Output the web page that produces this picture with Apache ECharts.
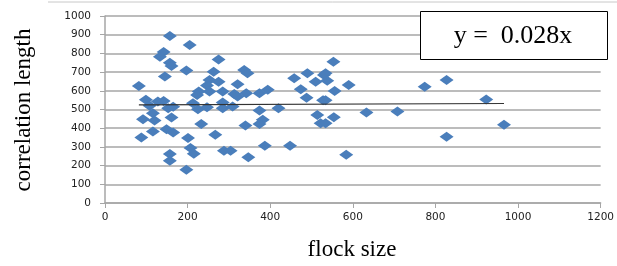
<!DOCTYPE html>
<html>
<head>
<meta charset="utf-8">
<script src="https://cdn.jsdelivr.net/npm/echarts@6/dist/echarts.min.js"></script>
<style>
  html, body { margin: 0; padding: 0; background: #fff; }
  #chart { width: 617px; height: 266px; }
</style>
</head>
<body>
<div id="chart"></div>
<script>
// flock size / correlation length
var points = [
  [157, 893], [142, 808], [133, 782], [157, 750], [161, 733], [145, 676],
  [82, 626], [99, 552], [128, 543], [142, 546], [108, 520], [153, 507],
  [165, 515], [116, 480], [161, 457], [92, 448], [120, 441], [149, 395],
  [165, 377], [116, 382], [88, 350], [157, 262], [157, 226],
  [205, 845], [275, 768], [197, 708], [263, 702], [337, 711], [345, 694],
  [253, 658], [275, 649], [247, 628], [321, 635], [227, 596], [253, 596],
  [285, 596], [313, 583], [321, 569], [342, 587], [223, 578], [213, 534],
  [225, 502], [247, 512], [285, 537], [285, 507], [309, 516], [233, 422],
  [267, 365], [340, 414], [201, 347], [207, 294], [215, 263], [288, 279],
  [304, 279], [347, 244], [197, 178],
  [458, 667], [490, 694], [510, 649], [530, 685], [374, 587], [394, 605],
  [474, 608], [488, 563], [528, 549], [374, 494], [420, 507], [382, 445],
  [374, 423], [514, 471], [522, 427], [387, 306], [448, 306],
  [553, 756], [534, 694], [538, 654], [590, 631], [556, 599], [534, 549],
  [554, 459], [633, 484], [708, 489], [534, 427], [584, 258],
  [774, 622], [827, 658], [923, 553], [966, 419], [827, 354]
];
var trend = [[82, 525], [966, 532]];
var xTicks = [0, 1200, 200];
var yTicks = [0, 1000, 100];
var fitLabel = 'y =  0.028x';

var chart = echarts.init(document.getElementById('chart'));
var option = {
  animation: false,
  grid: { left: 105, right: 14, top: 16, bottom: 63 },
  xAxis: {
    type: 'value', min: xTicks[0], max: xTicks[1], interval: xTicks[2],
    axisLine: { show: true, lineStyle: { color: '#a6a6a6', width: 1.5 } },
    axisTick: { show: true, length: 5, lineStyle: { color: '#a6a6a6' } },
    splitLine: { show: false },
    axisLabel: { color: '#222', fontFamily: 'DejaVu Sans', fontSize: 10.5, margin: 9,
      formatter: function (v) { return String(v); } }
  },
  yAxis: {
    type: 'value', min: yTicks[0], max: yTicks[1], interval: yTicks[2],
    axisLine: { show: true, lineStyle: { color: '#a6a6a6', width: 1.5 } },
    axisTick: { show: true, length: 5, lineStyle: { color: '#a6a6a6' } },
    splitLine: { show: true, lineStyle: { color: '#a6a6a6', width: 1.5 } },
    axisLabel: { color: '#222', fontFamily: 'DejaVu Sans', fontSize: 10.5, margin: 14,
      formatter: function (v) { return String(v); } }
  },
  series: [{
    type: 'scatter',
    data: points,
    symbol: 'diamond',
    symbolSize: [14, 10],
    itemStyle: { color: '#4a7ebb', opacity: 1 }
  }, {
    type: 'line',
    data: trend,
    symbol: 'none',
    lineStyle: { color: '#333', width: 1.2 },
    z: 3
  }],
  graphic: [
    { type: 'line', shape: { x1: 48, y1: 2, x2: 617, y2: 2 }, style: { stroke: '#c8c8c8', lineWidth: 1 } },
    { type: 'rect', shape: { x: 420.5, y: 11.5, width: 187, height: 48 },
      style: { fill: '#fff', stroke: '#000', lineWidth: 1 }, z: 10 },
    { type: 'text', x: 513, y: 36, z: 11,
      style: { text: fitLabel, font: '26px "Liberation Serif"', fill: '#000', align: 'center', verticalAlign: 'middle' } },
    { type: 'text', x: 24, y: 110, rotation: Math.PI / 2, z: 11,
      style: { text: 'correlation length', font: '23px "Liberation Serif"', fill: '#000', align: 'center', verticalAlign: 'middle' } },
    { type: 'text', x: 352, y: 250, z: 11,
      style: { text: 'flock size', font: '23px "Liberation Serif"', fill: '#000', align: 'center', verticalAlign: 'middle' } }
  ]
};
chart.setOption(option);
</script>
</body>
</html>
